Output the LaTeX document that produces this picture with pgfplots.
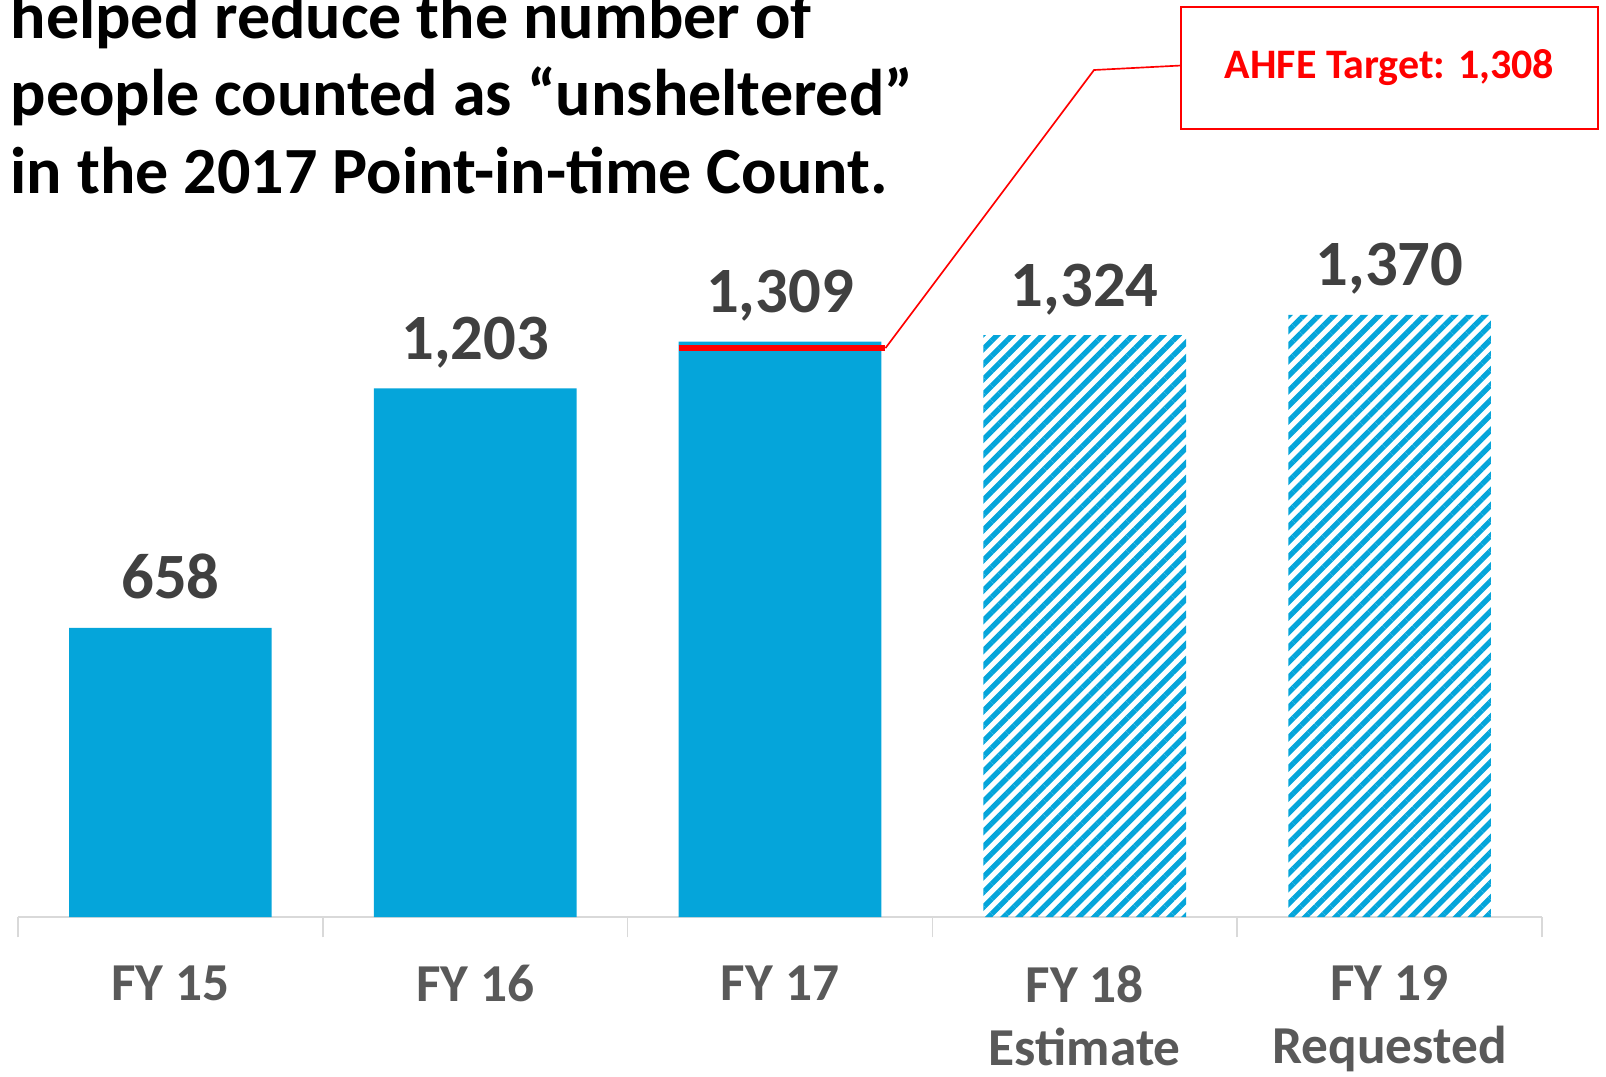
\documentclass[border=0pt]{standalone}
\usepackage{fontspec}
\setmainfont{Carlito}
\usepackage{pgfplots}
\pgfplotsset{compat=1.18}
\usetikzlibrary{patterns.meta}
\definecolor{barblue}{HTML}{05A5DA}
\definecolor{valgray}{HTML}{404040}
\definecolor{labgray}{HTML}{595959}
\definecolor{axisgray}{HTML}{D9D9D9}
\definecolor{targetred}{HTML}{FF0000}

\begin{document}
\begin{tikzpicture}[x=0.3pt, y=-0.3pt]
\path[use as bounding box] (0,0) rectangle (1606,1076);

% title (top line cut off by the page edge)
\begin{scope}[every node/.style={anchor=base west, inner sep=0pt, font=\fontsize{19.8}{23}\selectfont\bfseries}]
\node at (10,38) {helped reduce the number of};
\node at (10,115.5) {people counted as “unsheltered”};
\node at (10,193) {in the 2017 Point-in-time Count.};
\end{scope}

\begin{axis}[
    at={(51.12pt,-275.1pt)},
    anchor=origin,
    scale only axis,
    width=457.2pt,
    height=210.96pt,
    xmin=-0.5, xmax=4.5,
    ymin=0, ymax=1600,
    clip=false,
    axis x line*=bottom,
    axis y line=none,
    x axis line style={-, draw=axisgray, line width=0.7pt},
    xtick={0,...,4},
    xticklabels={FY 15, FY 16, FY 17, {FY 18\\Estimate}, {FY 19\\Requested}},
    major tick length=0pt,
    minor xtick={-0.5,0.5,...,4.5},
    minor tick length=6.1pt,
    tick align=outside,
    minor tick style={draw=axisgray, line width=0.5pt},
    xticklabel style={align=center, anchor=north, yshift=-11pt, text=labgray,
        font=\fontsize{16}{19}\selectfont\bfseries},
    ybar,
    bar width=60.8pt,
    /pgf/number format/1000 sep={,},
    /pgf/number format/assume math mode=true,
    nodes near coords,
    nodes near coords style={anchor=base, yshift=8.7pt, text=valgray,
        font=\fontsize{19.4}{22}\selectfont\bfseries},
]
\addplot[fill=barblue, draw=none, bar shift=0pt] coordinates {
    (0,658) (1,1203) (2,1309)
};
\addplot[pattern={Lines[angle=45,distance=3.2pt,line width=1.6pt]},
    pattern color=barblue, draw=none, bar shift=0pt] coordinates {
    (3,1324) (4,1370)
};
\draw[targetred, line width=2pt] ([yshift=-1.8pt]axis cs:1.667,1308) -- ([yshift=-1.8pt]axis cs:2.346,1308)
    coordinate (lead);
\end{axis}

\draw[targetred, line width=0.5pt] (lead) -- (1094,70) -- (1181,65.5);
\draw[targetred, line width=0.7pt] (1181,7) rectangle (1598,129);
\node[text=targetred, font=\fontsize{12.6}{15}\selectfont\bfseries] at (1389.5,68) {AHFE Target: 1,308};
\end{tikzpicture}
\end{document}
